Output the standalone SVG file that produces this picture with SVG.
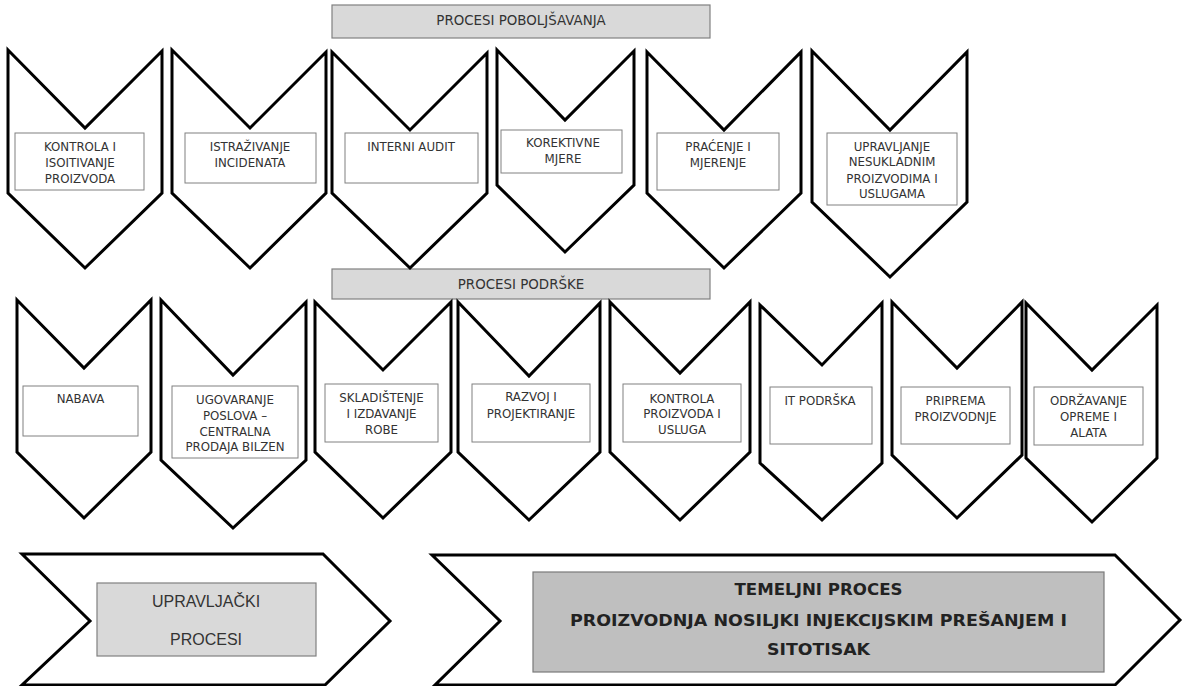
<svg xmlns="http://www.w3.org/2000/svg" width="1184" height="686" viewBox="0 0 1184 686">
<style>
.chev{fill:#fff;stroke:#000;stroke-width:3;stroke-linejoin:miter}
.box{fill:#fff;stroke:#808080;stroke-width:1}
.hdr{fill:#d9d9d9;stroke:#808080;stroke-width:1.2}
.dark{fill:#bfbfbf;stroke:#7a7a7a;stroke-width:1.2}
.t{font-family:"DejaVu Sans",Verdana,sans-serif;font-size:11.8px;fill:#333;text-anchor:middle}
.h{font-family:"DejaVu Sans",Verdana,sans-serif;font-size:13.4px;fill:#333;text-anchor:middle}
.m{font-family:"Liberation Sans",Arial,sans-serif;font-size:16px;fill:#333;text-anchor:middle}
.b{font-family:"DejaVu Sans",Verdana,sans-serif;font-weight:bold;font-size:16.5px;fill:#222;text-anchor:middle}
</style>
<rect width="1184" height="686" fill="#fff"/>

<g id="hdr-poboljsavanja">
<rect class="hdr" x="332" y="5" width="378" height="33"/>
<text class="h" x="521" y="25">PROCESI POBOLJŠAVANJA</text>
</g>
<g id="hdr-podrske">
<rect class="hdr" x="332" y="269" width="378" height="30"/>
<text class="h" x="521" y="289">PROCESI PODRŠKE</text>
</g>

<g id="p1">
<polygon class="chev" points="8,50 85,128 162,51 162,193 85,268 8,193"/>
<rect class="box" x="15" y="133" width="129" height="57"/>
<text class="t" x="80" y="151">KONTROLA I</text>
<text class="t" x="80" y="167">ISOITIVANJE</text>
<text class="t" x="80" y="183">PROIZVODA</text>
</g>
<g id="p2">
<polygon class="chev" points="172,50 250,128 326,52 326,193 250,268 172,193"/>
<rect class="box" x="185" y="133" width="131" height="50"/>
<text class="t" x="250" y="151">ISTRAŽIVANJE</text>
<text class="t" x="250" y="167">INCIDENATA</text>
</g>
<g id="p3">
<polygon class="chev" points="332,52 410,130 487,53 487,193 410,268 332,193"/>
<rect class="box" x="345" y="133" width="133" height="50"/>
<text class="t" x="411" y="151">INTERNI AUDIT</text>
</g>
<g id="p4">
<polygon class="chev" points="497,50 565,120 634,51 634,185 565,252 497,185"/>
<rect class="box" x="501" y="130" width="121" height="43"/>
<text class="t" x="563" y="147">KOREKTIVNE</text>
<text class="t" x="563" y="163">MJERE</text>
</g>
<g id="p5">
<polygon class="chev" points="647,52 724,130 801,52 801,193 724,268 647,193"/>
<rect class="box" x="657" y="133" width="122" height="57"/>
<text class="t" x="718" y="151">PRAĆENJE I</text>
<text class="t" x="718" y="167">MJERENJE</text>
</g>
<g id="p6">
<polygon class="chev" points="812,51 890,130 967,52 967,202 890,277 812,202"/>
<rect class="box" x="827" y="133" width="130" height="72"/>
<text class="t" x="892" y="151">UPRAVLJANJE</text>
<text class="t" x="892" y="166">NESUKLADNIM</text>
<text class="t" x="892" y="183">PROIZVODIMA I</text>
<text class="t" x="892" y="198">USLUGAMA</text>
</g>

<g id="s1">
<polygon class="chev" points="17,300 84,368 151,300 151,452 84,518 17,452"/>
<rect class="box" x="23" y="386" width="115" height="50"/>
<text class="t" x="80.5" y="403">NABAVA</text>
</g>
<g id="s2">
<polygon class="chev" points="161,300 233,375 306,302 306,460 233,528 161,460"/>
<rect class="box" x="172" y="386" width="126" height="72"/>
<text class="t" x="235" y="404">UGOVARANJE</text>
<text class="t" x="235" y="420">POSLOVA –</text>
<text class="t" x="235" y="436">CENTRALNA</text>
<text class="t" x="235" y="451">PRODAJA BILZEN</text>
</g>
<g id="s3">
<polygon class="chev" points="315,302 383,370 451,302 451,452 383,518 315,452"/>
<rect class="box" x="325" y="384" width="113" height="58"/>
<text class="t" x="381.5" y="402">SKLADIŠTENJE</text>
<text class="t" x="381.5" y="418">I IZDAVANJE</text>
<text class="t" x="381.5" y="434">ROBE</text>
</g>
<g id="s4">
<polygon class="chev" points="458,302 529,376 600,303 600,452 529,520 458,452"/>
<rect class="box" x="472" y="384" width="118" height="58"/>
<text class="t" x="531" y="401">RAZVOJ I</text>
<text class="t" x="531" y="418">PROJEKTIRANJE</text>
</g>
<g id="s5">
<polygon class="chev" points="610,302 680,373 750,302 750,452 680,520 610,452"/>
<rect class="box" x="623" y="384" width="118" height="58"/>
<text class="t" x="682" y="403">KONTROLA</text>
<text class="t" x="682" y="418">PROIZVODA I</text>
<text class="t" x="682" y="434">USLUGA</text>
</g>
<g id="s6">
<polygon class="chev" points="760,305 822,365 882,303 882,463 822,520 760,463"/>
<rect class="box" x="770" y="387" width="102" height="57"/>
<text class="t" x="820" y="405">IT PODRŠKA</text>
</g>
<g id="s7">
<polygon class="chev" points="892,302 957,368 1022,302 1022,455 957,518 892,455"/>
<rect class="box" x="901" y="387" width="109" height="57"/>
<text class="t" x="955.5" y="405">PRIPREMA</text>
<text class="t" x="955.5" y="421">PROIZVODNJE</text>
</g>
<g id="s8">
<polygon class="chev" points="1026,303 1092,370 1157,305 1157,458 1092,522 1026,458"/>
<rect class="box" x="1034" y="387" width="109" height="58"/>
<text class="t" x="1088.5" y="405">ODRŽAVANJE</text>
<text class="t" x="1088.5" y="421">OPREME I</text>
<text class="t" x="1088.5" y="437">ALATA</text>
</g>

<g id="upravljacki">
<polygon class="chev" points="22,554 323,554 390,621 325,685 22,685 90,621"/>
<rect class="hdr" x="97" y="583" width="219" height="73"/>
<text class="m" x="206" y="607">UPRAVLJAČKI</text>
<text class="m" x="206" y="645">PROCESI</text>
</g>
<g id="temeljni">
<polygon class="chev" points="432,555 1115,555 1180,620 1115,685 435,685 500,621"/>
<rect class="dark" x="533" y="572" width="571" height="100"/>
<text class="b" x="818.5" y="595" textLength="168" lengthAdjust="spacingAndGlyphs">TEMELJNI PROCES</text>
<text class="b" x="818.5" y="626" textLength="497" lengthAdjust="spacingAndGlyphs">PROIZVODNJA NOSILJKI INJEKCIJSKIM PREŠANJEM I</text>
<text class="b" x="818.5" y="655" textLength="103" lengthAdjust="spacingAndGlyphs">SITOTISAK</text>
</g>

<g id="connectors"></g>
</svg>
